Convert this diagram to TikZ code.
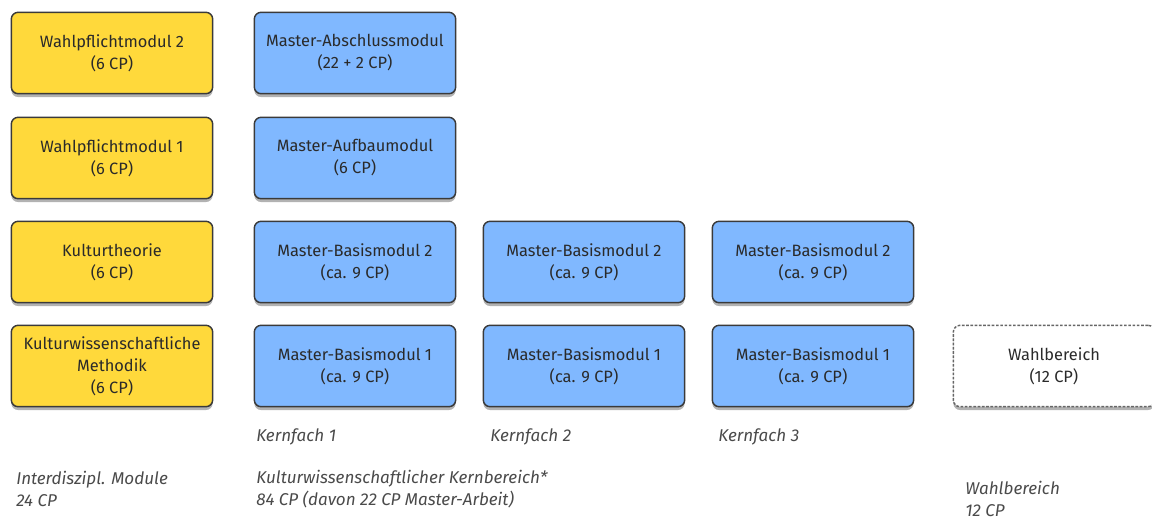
\documentclass[tikz,border=0pt]{standalone}
\usepackage{fontspec}
\setmainfont{Fira Sans}
\usetikzlibrary{shadows}
\definecolor{ybox}{HTML}{FFD93B}
\definecolor{bbox}{HTML}{80B8FF}
\definecolor{edge}{HTML}{3A3A3A}
\definecolor{txt}{HTML}{2A2A2A}
\tikzset{
  modbox/.style={draw=edge, line width=1.1pt, rounded corners=5pt, minimum width=151pt, minimum height=61pt,
    align=center, text=txt, font=\fontsize{12.3}{16.5}\selectfont, inner sep=2pt,
    drop shadow={shadow xshift=0pt, shadow yshift=-2.5pt, opacity=0.3, fill=black}},
  yel/.style={modbox, fill=ybox},
  blu/.style={modbox, fill=bbox},
  wahl/.style={modbox, fill=white, draw=gray!80!black, dashed, dash pattern=on 2pt off 1.2pt},
  lab/.style={anchor=west, align=left, text=txt!85, inner sep=0pt, font=\itshape\fontsize{12.8}{16}\selectfont}
}
\begin{document}
\begin{tikzpicture}[x=0.75pt,y=-0.75pt]
\useasboundingbox (0,0) rectangle (1152,519);
\node[yel] (y4) at (112,53) {Wahlpflichtmodul 2\\(6 CP)};
\node[yel] (y3) at (112,158) {Wahlpflichtmodul 1\\(6 CP)};
\node[yel] (y2) at (112,262) {Kulturtheorie\\(6 CP)};
\node[yel] (y1) at (112,366) {Kulturwissenschaftliche\\Methodik\\(6 CP)};
\node[blu] (a4) at (355,53) {Master-Abschlussmodul\\(22 + 2 CP)};
\node[blu] (a3) at (355,158) {Master-Aufbaumodul\\(6 CP)};
\node[blu] (a2) at (355,262) {Master-Basismodul 2\\(ca. 9 CP)};
\node[blu] (a1) at (355,366) {Master-Basismodul 1\\(ca. 9 CP)};
\node[blu] (b2) at (584,262) {Master-Basismodul 2\\(ca. 9 CP)};
\node[blu] (b1) at (584,366) {Master-Basismodul 1\\(ca. 9 CP)};
\node[blu] (c2) at (813,262) {Master-Basismodul 2\\(ca. 9 CP)};
\node[blu] (c1) at (813,366) {Master-Basismodul 1\\(ca. 9 CP)};
\node[wahl] (w) at (1054,366) {Wahlbereich\\(12 CP)};
\node[lab] (k1) at (256,437) {Kernfach 1};
\node[lab] (k2) at (490,437) {Kernfach 2};
\node[lab] (k3) at (718,437) {Kernfach 3};
\node[lab] (l1) at (16,489) {Interdiszipl. Module\\24 CP};
\node[lab] (l2) at (256,489) {Kulturwissenschaftlicher Kernbereich*\\84 CP (davon 22 CP Master-Arbeit)};
\node[lab] (l3) at (965,499) {Wahlbereich\\12 CP};
\end{tikzpicture}
\end{document}
